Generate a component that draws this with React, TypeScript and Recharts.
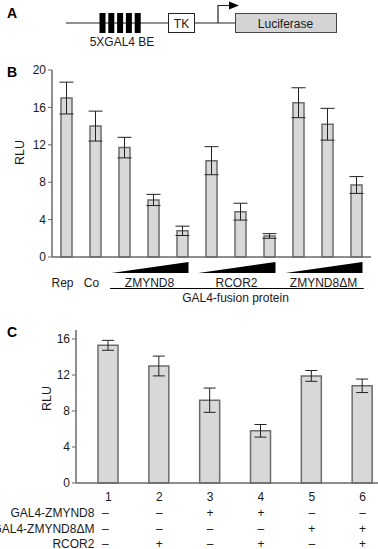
import { BarChart, Bar, XAxis, YAxis, ErrorBar } from 'recharts';

// panel B: reporter alone, control, then 3 doses for each GAL4 fusion
const bCategories = ['Rep', 'Co', 'ZMYND8-1', 'ZMYND8-2', 'ZMYND8-3', 'RCOR2-1', 'RCOR2-2', 'RCOR2-3', 'dM-1', 'dM-2', 'dM-3'];
const bTickLabels = ['Rep', 'Co', '', '', '', '', '', '', '', '', ''];
const bValues = [17.0, 14.0, 11.7, 6.1, 2.8, 10.3, 4.85, 2.25, 16.5, 14.2, 7.7];
const bErrors = [1.7, 1.6, 1.1, 0.6, 0.5, 1.5, 0.9, 0.25, 1.6, 1.7, 0.9];
const bGroups = ['ZMYND8', 'RCOR2', 'ZMYND8ΔM'];
const bGroupMiddle = [3, 6, 9];
const bTicks = [0, 4, 8, 12, 16, 20];

// panel C
const cLanes = ['1', '2', '3', '4', '5', '6'];
const cValues = [15.3, 13.0, 9.2, 5.8, 11.9, 10.8];
const cErrors = [0.55, 1.1, 1.35, 0.7, 0.6, 0.75];
const cRowNames = ['GAL4-ZMYND8', 'GAL4-ZMYND8ΔM', 'RCOR2'];
const cZmynd8 = ['–', '–', '+', '+', '–', '–'];
const cDeltaM = ['–', '–', '–', '–', '+', '+'];
const cRcor2 = ['–', '+', '–', '+', '–', '+'];
const cTicks = [0, 4, 8, 12, 16];

const bData = bCategories.map((name, i) => ({ name, value: bValues[i], err: bErrors[i] }));
const cData = cLanes.map((name, i) => ({ name, value: cValues[i], err: cErrors[i] }));
const cRows = [cZmynd8, cDeltaM, cRcor2];

const FONT = '"Liberation Sans", Arial, sans-serif';
const TXT = '#1a1a1a';
const AXIS = '#6a6a6a';

const B_LEFT = 52;
const B_RIGHT = 7;
const B_W = 378;
const B_BAND = (B_W - B_LEFT - B_RIGHT) / bCategories.length;

const RluLabel = (props: any) => {
  const vb = props.viewBox;
  if (!vb) return null;
  const x = vb.x + props.dx;
  const y = vb.y + vb.height / 2 + props.dy;
  return (
    <text x={x} y={y} transform={`rotate(-90 ${x} ${y})`} textAnchor="middle" fontSize={12.5} fill={TXT} fontFamily={FONT}>
      RLU
    </text>
  );
};

const BTick = (props: any) => {
  const { x, y, index } = props;
  const g = bGroupMiddle.indexOf(index);
  const label = bTickLabels[index];
  return (
    <g fontFamily={FONT} fontSize={12} fill={TXT}>
      {label ? (
        <text x={x - 4} y={y + 30} textAnchor="middle">{label}</text>
      ) : null}
      {g >= 0 ? (
        <g>
          <polygon
            points={`${x - 1.45 * B_BAND},${y + 16} ${x + B_BAND + 6},${y + 5} ${x + B_BAND + 6},${y + 16}`}
            fill="#000"
          />
          <text x={x - 4} y={y + 30} textAnchor="middle">{bGroups[g]}</text>
        </g>
      ) : null}
      {index === 6 ? (
        <g>
          <line x1={x - 4.5 * B_BAND} x2={x + 4.25 * B_BAND} y1={y + 31.5} y2={y + 31.5} stroke="#000" strokeWidth={1.2} />
          <text x={x - 5} y={y + 45} textAnchor="middle">GAL4-fusion protein</text>
        </g>
      ) : null}
    </g>
  );
};

const CTick = (props: any) => {
  const { x, y, index } = props;
  const rowY = [33.5, 49.5, 64.5];
  const sx = index === 0 ? x - 3 : x;
  return (
    <g fontFamily={FONT} fontSize={12} fill={TXT}>
      <text x={x} y={y + 18} textAnchor="middle">{cLanes[index]}</text>
      {cRows.map((row, r) => (
        <text key={r} x={sx} y={y + rowY[r]} textAnchor="middle">{row[index]}</text>
      ))}
      {index === 0
        ? cRowNames.map((n, r) => (
            <text key={'n' + r} x={x - 14} y={y + rowY[r]} textAnchor="end">{n}</text>
          ))
        : null}
    </g>
  );
};

const PanelA = () => {
  const boxes = [0, 1, 2, 3, 4];
  return (
    <svg width={378} height={55} style={{ position: 'absolute', left: 0, top: 0 }} fontFamily={FONT}>
      <text x={7} y={18} fontSize={14} fontWeight="bold" fill="#000">A</text>
      <line x1={66} x2={236} y1={23} y2={23} stroke="#222" strokeWidth={1.2} />
      {boxes.map((i) => (
        <rect key={i} x={99.5 + i * 8.8} y={13} width={6} height={20} fill="#000" />
      ))}
      <rect x={168.5} y={13.5} width={26} height={19} fill="#fff" stroke="#222" strokeWidth={1} />
      <text x={181.5} y={27.5} fontSize={12} textAnchor="middle" fill={TXT}>TK</text>
      <polyline points="218,23 218,5.5 231,5.5" fill="none" stroke="#222" strokeWidth={1.2} />
      <polygon points="229,1.5 239,5.5 229,9.5" fill="#000" />
      <rect x={235.5} y={13.5} width={101} height={19} fill="#d4d4d4" stroke="#444" strokeWidth={1} />
      <text x={285.5} y={27.5} fontSize={12} textAnchor="middle" fill={TXT}>Luciferase</text>
      <text x={122} y={46} fontSize={12} textAnchor="middle" fill={TXT}>5XGAL4 BE</text>
    </svg>
  );
};

export default function App() {
  return (
    <div
      style={{
        position: 'absolute',
        left: 0,
        top: 0,
        width: 378,
        height: 549,
        overflow: 'hidden',
        background: '#fff',
        fontFamily: FONT,
      }}
    >
      <PanelA />

      <div style={{ position: 'absolute', left: 0, top: 0 }}>
        <BarChart width={B_W} height={320} data={bData} margin={{ top: 70, right: B_RIGHT, left: 0, bottom: 18 }} barSize={11}>
          <XAxis
            dataKey="name"
            interval={0}
            tickLine={false}
            tickSize={0}
            tickMargin={0}
            height={45}
            axisLine={{ stroke: AXIS, strokeWidth: 1.5 }}
            tick={<BTick />}
          />
          <YAxis
            width={B_LEFT}
            domain={[0, 20]}
            ticks={bTicks}
            interval={0}
            tickSize={4}
            axisLine={{ stroke: AXIS, strokeWidth: 1.5 }}
            tickLine={{ stroke: AXIS }}
            tick={{ fill: TXT, fontSize: 12, fontFamily: FONT }}
            label={<RluLabel dx={24} dy={-11} />}
          />
          <Bar dataKey="value" fill="#d8d8d8" stroke="#6c6c6c" strokeWidth={1.5} isAnimationActive={false}>
            <ErrorBar dataKey="err" width={7} stroke="#222" strokeWidth={1} isAnimationActive={false} />
          </Bar>
        </BarChart>
      </div>

      <div style={{ position: 'absolute', left: 0, top: 300 }}>
        <svg width={30} height={40} style={{ position: 'absolute', left: 0, top: 20 }}>
          <text x={7} y={17} fontSize={14} fontWeight="bold" fill="#000" fontFamily={FONT}>C</text>
        </svg>
        <BarChart width={400} height={249} data={cData} margin={{ top: 30, right: 12, left: 0, bottom: 16 }} barSize={20}>
          <XAxis
            dataKey="name"
            interval={0}
            tickLine={false}
            tickSize={0}
            tickMargin={0}
            height={50}
            padding={{ left: 7, right: 0 }}
            axisLine={{ stroke: AXIS, strokeWidth: 1.5 }}
            tick={<CTick />}
          />
          <YAxis
            width={76}
            domain={[0, 17]}
            ticks={cTicks}
            interval={0}
            tickSize={4}
            axisLine={{ stroke: AXIS, strokeWidth: 1.5 }}
            tickLine={{ stroke: AXIS }}
            tick={{ fill: TXT, fontSize: 12, fontFamily: FONT }}
            label={<RluLabel dx={51} dy={-8} />}
          />
          <Bar dataKey="value" fill="#d8d8d8" stroke="#6c6c6c" strokeWidth={1.5} isAnimationActive={false}>
            <ErrorBar dataKey="err" width={6} stroke="#222" strokeWidth={1} isAnimationActive={false} />
          </Bar>
        </BarChart>
      </div>

      <svg width={30} height={30} style={{ position: 'absolute', left: 0, top: 60 }}>
        <text x={7} y={17} fontSize={14} fontWeight="bold" fill="#000" fontFamily={FONT}>B</text>
      </svg>
    </div>
  );
}
